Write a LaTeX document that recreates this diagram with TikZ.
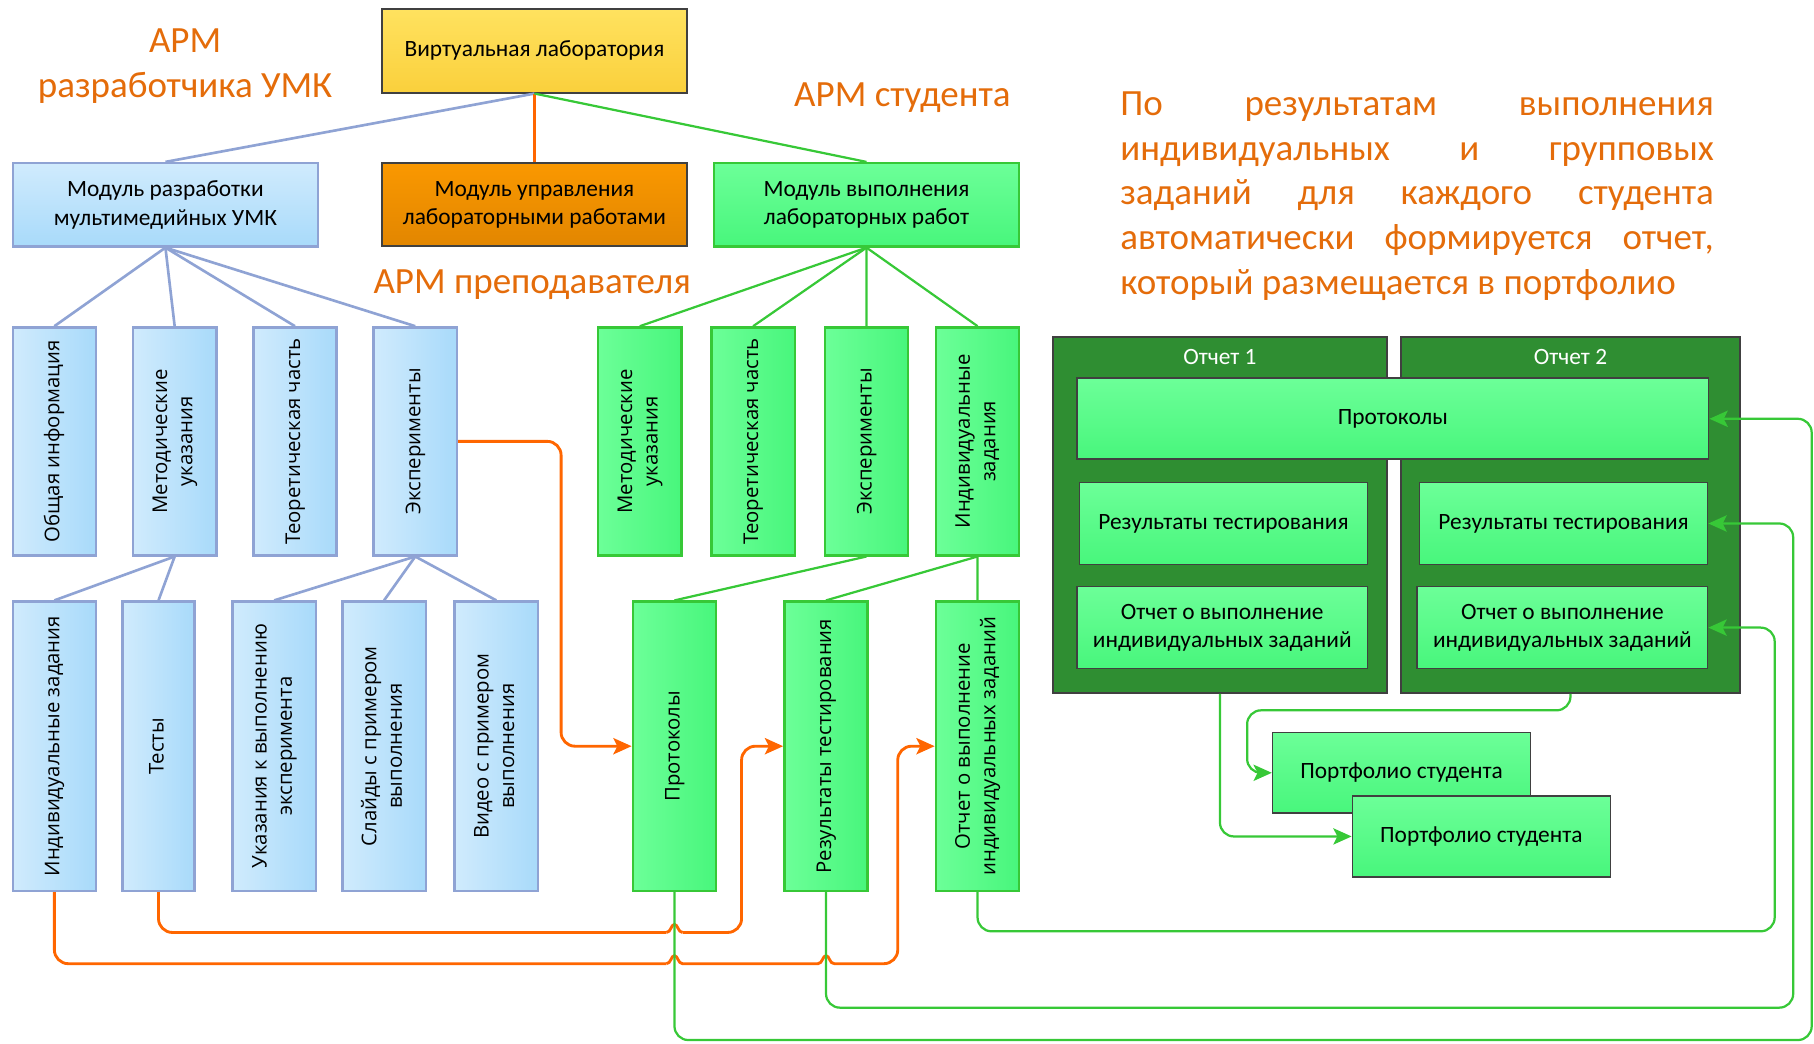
\documentclass[tikz,border=0pt]{standalone}
\usepackage{fontspec}
\setmainfont{Carlito}
\newfontfamily\vfont{Open Sans}
\usetikzlibrary{positioning,arrows.meta}

\definecolor{armorange}{RGB}{228,108,10}
\definecolor{lnorange}{RGB}{255,102,0}
\definecolor{bluefillA}{RGB}{208,235,253}
\definecolor{bluefillB}{RGB}{168,218,250}
\definecolor{blueline}{RGB}{143,163,212}
\definecolor{grnfillA}{RGB}{108,255,152}
\definecolor{grnfillB}{RGB}{72,246,124}
\definecolor{grnline}{RGB}{55,200,55}
\definecolor{dkgreen}{RGB}{47,142,50}
\definecolor{yelA}{RGB}{255,226,95}
\definecolor{yelB}{RGB}{250,208,60}
\definecolor{orgA}{RGB}{250,152,0}
\definecolor{orgB}{RGB}{226,134,0}
\definecolor{frame}{RGB}{64,64,64}

\newcommand{\vtxt}[1]{\rotatebox{90}{\begin{tabular}{@{}c@{}}#1\end{tabular}}}

\begin{document}
\begin{tikzpicture}[x=0.02cm,y=-0.02cm,on grid,
    hfont/.style={font=\fontsize{11.5}{14}\selectfont},
    vfontsty/.style={font=\vfont\fontsize{10}{12.5}\selectfont},
    topbox/.style={hfont,align=center,inner sep=0pt,line width=1pt,minimum width=5.28cm,minimum height=1.44cm},
    ybox/.style={topbox,draw=frame,top color=yelA,bottom color=yelB},
    obox/.style={topbox,draw=frame,top color=orgA,bottom color=orgB},
    lbbox/.style={topbox,draw=blueline,line width=1.2pt,top color=bluefillA,bottom color=bluefillB},
    lgbox/.style={topbox,draw=grnline,line width=1.2pt,top color=grnfillA,bottom color=grnfillB},
    bvbox/.style={vfontsty,draw=blueline,line width=1.2pt,left color=bluefillA,right color=bluefillB,inner sep=0pt,minimum width=1.44cm},
    gvbox/.style={vfontsty,draw=grnline,line width=1.2pt,left color=grnfillA,right color=grnfillB,inner sep=0pt,minimum width=1.44cm},
    repbox/.style={draw=frame,line width=0.8pt,fill=dkgreen,minimum height=6.16cm},
    reptitle/.style={hfont,text=white},
    rpbox/.style={hfont,align=center,draw=frame,line width=0.8pt,top color=grnfillA,bottom color=grnfillB,inner sep=0pt,minimum height=1.42cm},
    armtext/.style={text=armorange,font=\fontsize{18.2}{22}\selectfont},
    bline/.style={draw=blueline,line width=1.3pt},
    gline/.style={draw=grnline,line width=1.1pt},
    oline/.style={draw=lnorange,line width=1.1pt},
    owire/.style={draw=lnorange,line width=1.4pt,rounded corners=0.24cm},
    oconn/.style={owire,-{Stealth[length=9pt,width=8pt,inset=2pt]}},
    gconn/.style={draw=grnline,line width=1.1pt,rounded corners=0.24cm,-{Stealth[length=9pt,width=8pt,inset=2pt]}}
    ]
    \useasboundingbox (0,0) rectangle (1568,902);

    % top level
    \node[ybox] (virt) at (462,44) {Виртуальная лаборатория};
    \node[lbbox] (m_dev) at (143,177) {Модуль разработки\\мультимедийных УМК};
    \node[obox] (m_mgmt) at (462,177) {Модуль управления\\лабораторными работами};
    \node[lgbox] (m_exec) at (749,177) {Модуль выполнения\\лабораторных работ};

    \node[armtext,align=center] (arm_dev) at (160,57) {АРМ\\разработчика УМК};
    \node[armtext] (arm_st) at (780,84) {АРМ студента};
    \node[armtext] (arm_tch) at (460,246) {АРМ преподавателя};
    \node[armtext,align=left,anchor=north west,inner sep=0pt] (note) at (968,79)
        {\makebox[292pt][s]{По результатам выполнения}\\
         \makebox[292pt][s]{индивидуальных и групповых}\\
         \makebox[292pt][s]{заданий для каждого студента}\\
         \makebox[292pt][s]{автоматически формируется отчет,}\\
         который размещается в портфолио};

    % blue branch
    \node[bvbox,minimum height=3.94cm] (b_info) at (47,381.5) {\vtxt{Общая информация}};
    \node[bvbox,minimum height=3.94cm] (b_met) [right=2.08cm of b_info] {\vtxt{Методические\\указания}};
    \node[bvbox,minimum height=3.94cm] (b_theo) [right=2.08cm of b_met] {\vtxt{Теоретическая часть}};
    \node[bvbox,minimum height=3.94cm] (b_exp) [right=2.08cm of b_theo] {\vtxt{Эксперименты}};

    \node[bvbox,minimum height=5cm] (b_ind) at (47,645) {\vtxt{Индивидуальные задания}};
    \node[bvbox,minimum height=5cm,minimum width=1.24cm] (b_test) at (137,645) {\vtxt{Тесты}};
    \node[bvbox,minimum height=5cm] (b_hint) at (237,645) {\vtxt{Указания к выполнению\\эксперимента}};
    \node[bvbox,minimum height=5cm] (b_slide) at (332,645) {\vtxt{Слайды с примером\\выполнения}};
    \node[bvbox,minimum height=5cm] (b_video) at (429,645) {\vtxt{Видео с примером\\выполнения}};

    % green branch
    \node[gvbox,minimum height=3.94cm] (g_met) at (553,381.5) {\vtxt{Методические\\указания}};
    \node[gvbox,minimum height=3.94cm] (g_theo) [right=1.96cm of g_met] {\vtxt{Теоретическая часть}};
    \node[gvbox,minimum height=3.94cm] (g_exp) [right=1.96cm of g_theo] {\vtxt{Эксперименты}};
    \node[gvbox,minimum height=3.94cm] (g_ind) at (845,381.5) {\vtxt{Индивидуальные\\задания}};

    \node[gvbox,minimum height=5cm] (r_prot) at (583,645) {\vtxt{Протоколы}};
    \node[gvbox,minimum height=5cm] (r_res) [right=2.62cm of r_prot] {\vtxt{Результаты тестирования}};
    \node[gvbox,minimum height=5cm] (r_rep) [right=2.62cm of r_res] {\vtxt{Отчет о выполнение\\индивидуальных заданий}};

    % reports
    \node[repbox,minimum width=5.78cm] (rep1) at (1054.5,445) {};
    \node[repbox,minimum width=5.86cm] (rep2) at (1357.5,445) {};
    \node[reptitle] (rep1_t) at (1054.5,309) {Отчет 1};
    \node[reptitle] (rep2_t) at (1357.5,309) {Отчет 2};
    \node[rpbox,minimum width=10.92cm,minimum height=1.4cm] (rp_prot) at (1204,362) {Протоколы};
    \node[rpbox,minimum width=4.98cm] (rp_res1) at (1057.5,452.5) {Результаты тестирования};
    \node[rpbox,minimum width=4.98cm] (rp_res2) at (1351.5,452.5) {Результаты тестирования};
    \node[rpbox,minimum width=5.02cm] (rp_rep1) at (1056.5,542.5) {Отчет о выполнение\\индивидуальных заданий};
    \node[rpbox,minimum width=5.02cm] (rp_rep2) at (1350.5,542.5) {Отчет о выполнение\\индивидуальных заданий};

    \node[rpbox,minimum width=4.46cm,minimum height=1.4cm] (pf1) at (1211.5,668) {Портфолио студента};
    \node[rpbox,minimum width=4.46cm,minimum height=1.4cm] (pf2) at (1280.5,723) {Портфолио студента};

    % tree lines
    \path[bline] (virt.south) edge (m_dev.north);
    \path[oline] (virt.south) edge (m_mgmt.north);
    \path[gline] (virt.south) edge (m_exec.north);
    \path[bline] (m_dev.south) edge (b_info.north) edge (b_met.north)
                               edge (b_theo.north) edge (b_exp.north);
    \path[bline] (b_met.south) edge (b_ind.north) edge (b_test.north);
    \path[bline] (b_exp.south) edge (b_hint.north) edge (b_slide.north) edge (b_video.north);
    \path[gline] (m_exec.south) edge (g_met.north) edge (g_theo.north)
                                edge (g_exp.north) edge (g_ind.north);
    \path[gline] (g_exp.south) edge (r_prot.north);
    \path[gline] (g_ind.south) edge (r_res.north) edge (r_rep.north);

    % teacher -> student
    \draw[oconn] (b_exp.east) -- (485,381.5) -- (485,645) -- (r_prot.west);
    \draw[owire] (b_test.south) -- (137,806) -- (576,806);
    \draw[owire,sharp corners] (576,806) .. controls (580,806) and (580,799) .. (583,799)
        .. controls (586,799) and (586,806) .. (590,806);
    \draw[oconn] (590,806) -- (641,806) -- (641,645) -- (r_res.west);
    \draw[owire] (b_ind.south) -- (47,833) -- (576,833);
    \draw[owire,sharp corners] (576,833) .. controls (580,833) and (580,826) .. (583,826)
        .. controls (586,826) and (586,833) .. (590,833) -- (707,833)
        .. controls (711,833) and (711,826) .. (714,826) .. controls (717,826) and (717,833) .. (721,833);
    \draw[oconn] (721,833) -- (776,833) -- (776,645) -- (r_rep.west);

    % student -> reports
    \draw[gconn] (r_prot.south) -- (583,899) -- (1566,899) -- (1566,362) -- (rp_prot.east);
    \draw[gconn] (r_res.south) -- (714,871) -- (1550,871) -- (1550,452.5) -- (rp_res2.east);
    \draw[gconn] (r_rep.south) -- (845,805) -- (1534,805) -- (1534,542.5) -- (rp_rep2.east);
    \draw[gconn] (rep2.south) -- (1357.5,614) -- (1078,614) -- (1078,668) -- (pf1.west);
    \draw[gconn] (rep1.south) -- (1054.5,723) -- (pf2.west);
\end{tikzpicture}
\end{document}
